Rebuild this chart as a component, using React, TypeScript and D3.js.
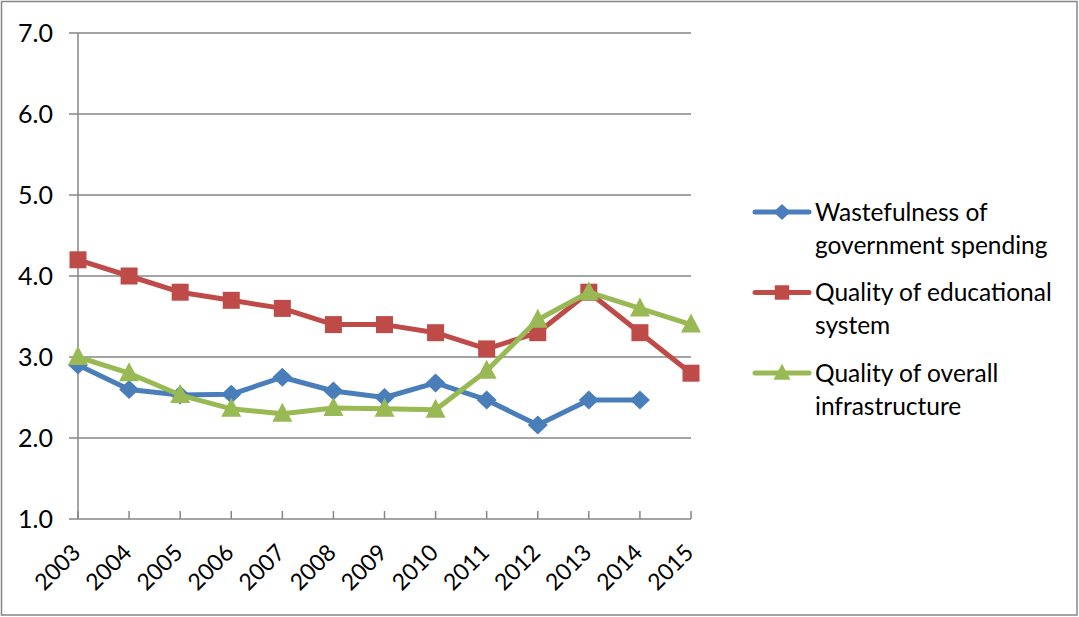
import React from "react";
import * as d3 from "d3";

const years = ["2003","2004","2005","2006","2007","2008","2009","2010","2011","2012","2013","2014","2015"];
const wastefulness: (number | null)[] = [2.9, 2.6, 2.53, 2.54, 2.75, 2.58, 2.5, 2.68, 2.47, 2.16, 2.47, 2.47, null];
const education: (number | null)[] = [4.2, 4.0, 3.8, 3.7, 3.6, 3.4, 3.4, 3.3, 3.1, 3.3, 3.8, 3.3, 2.8];
const infrastructure: (number | null)[] = [3.0, 2.8, 2.53, 2.36, 2.3, 2.37, 2.36, 2.35, 2.83, 3.46, 3.8, 3.6, 3.4];
const yTicks = [1, 2, 3, 4, 5, 6, 7];

const seriesNames = [
  ["Wastefulness of", "government spending"],
  ["Quality of educational", "system"],
  ["Quality of overall", "infrastructure"],
];
const seriesColors = ["#4A7EBB", "#BE4B48", "#98B954"];
const seriesShapes = ["diamond", "square", "triangle"];
const seriesData = [wastefulness, education, infrastructure];

const FONT = "Lato, 'Open Sans', sans-serif";

function Marker({ shape, x, y, color, s = 1 }: { shape: string; x: number; y: number; color: string; s?: number }) {
  if (shape === "square") {
    const h = 8.5 * s;
    return <rect x={x - h} y={y - h} width={2 * h} height={2 * h} fill={color} />;
  }
  if (shape === "diamond") {
    const rx = 10 * s, ry = 9.5 * s;
    return <path d={`M${x},${y - ry}L${x + rx},${y}L${x},${y + ry}L${x - rx},${y}Z`} fill={color} />;
  }
  const r = 10 * s;
  return <path d={`M${x},${y - 11 * s}L${x + r},${y + 8 * s}L${x - r},${y + 8 * s}Z`} fill={color} />;
}

export default function App() {
  const W = 1079, H = 617;
  const x = d3.scalePoint<string>().domain(years).range([78, 691]);
  const y = d3.scaleLinear().domain([1, 7]).range([519, 33]);
  const line = d3
    .line<number | null>()
    .defined((d) => d !== null)
    .x((_, i) => x(years[i]) as number)
    .y((d) => y(d as number));

  return (
    <svg width={W} height={H} style={{ position: "absolute", left: 0, top: 0 }}>
      <rect x={0} y={0} width={W} height={H} fill="#fff" />
      <rect x={1.5} y={1.5} width={1075.5} height={613.5} fill="none" stroke="#868686" strokeWidth={1.5} />
      {yTicks.map((t) => (
        <g key={t}>
          {t > 1 && <line x1={78} x2={691} y1={y(t)} y2={y(t)} stroke="#868686" strokeWidth={1.5} />}
          <line x1={69} x2={78} y1={y(t)} y2={y(t)} stroke="#868686" strokeWidth={1.5} />
          <text x={53} y={y(t)} dy="0.36em" textAnchor="end" fontFamily={FONT} fontSize={25} fill="#000">
            {t.toFixed(1)}
          </text>
        </g>
      ))}
      <line x1={78} x2={78} y1={33} y2={519} stroke="#868686" strokeWidth={1.5} />
      <line x1={78} x2={691} y1={519} y2={519} stroke="#868686" strokeWidth={1.5} />
      {years.map((yr) => (
        <g key={yr}>
          <line x1={x(yr)} x2={x(yr)} y1={519} y2={511} stroke="#868686" strokeWidth={1.5} />
          <text
            transform={`translate(${(x(yr) as number) + 4},${554}) rotate(-45)`}
            textAnchor="end"
            fontFamily={FONT}
            fontSize={23}
            fill="#000"
          >
            {yr}
          </text>
        </g>
      ))}
      {seriesData.map((s, si) => (
        <g key={si}>
          <path d={line(s) || ""} fill="none" stroke={seriesColors[si]} strokeWidth={5} strokeLinejoin="round" strokeLinecap="round" />
          {s.map((v, i) =>
            v === null ? null : (
              <Marker key={i} shape={seriesShapes[si]} x={x(years[i]) as number} y={y(v)} color={seriesColors[si]} />
            )
          )}
        </g>
      ))}
      {seriesNames.map((lines, si) => {
        const cy = 212 + si * 80.5;
        return (
          <g key={si}>
            <line x1={755} x2={809} y1={cy} y2={cy} stroke={seriesColors[si]} strokeWidth={5} strokeLinecap="round" />
            <Marker shape={seriesShapes[si]} x={782} y={cy} color={seriesColors[si]} s={0.85} />
            {lines.map((l, li) => (
              <text key={li} x={815} y={cy + li * 33} dy="0.36em" fontFamily={FONT} fontSize={24.5} fill="#000">
                {l}
              </text>
            ))}
          </g>
        );
      })}
    </svg>
  );
}
